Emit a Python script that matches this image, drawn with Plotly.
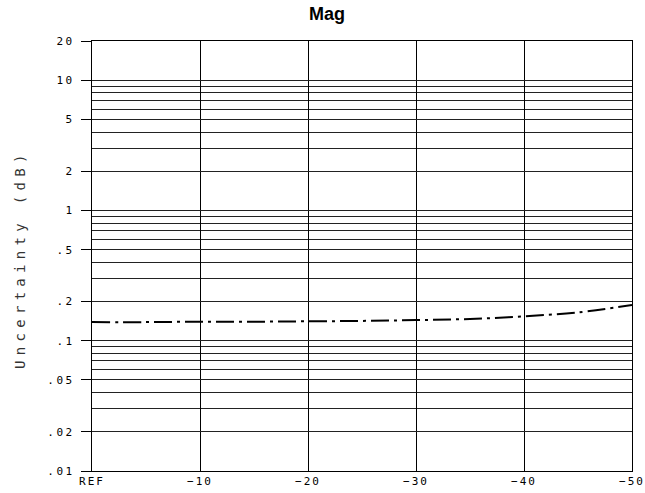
import plotly.graph_objects as go

# Data
offset_db = [0, -5, -10, -15, -20, -25, -30, -35, -40, -45, -50]
uncertainty_db = [0.139, 0.139, 0.14, 0.14, 0.141, 0.142, 0.144, 0.147, 0.154, 0.165, 0.188]

x_tick_vals = [0, -10, -20, -30, -40, -50]
x_tick_text = ["REF", "\u221210", "\u221220", "\u221230", "\u221240", "\u221250"]

y_major_vals = [0.01, 0.02, 0.05, 0.1, 0.2, 0.5, 1, 2, 5, 10, 20]
y_major_text = [".01", ".02", ".05", ".1", ".2", ".5", "1", "2", "5", "10", "20"]
y_minor_vals = [0.03, 0.04, 0.06, 0.07, 0.08, 0.09,
                0.3, 0.4, 0.6, 0.7, 0.8, 0.9,
                3, 4, 6, 7, 8, 9]

mono = "DejaVu Sans Mono"


def spaced(s, px):
    return f'<span style="letter-spacing:{px}px">{s}</span>'


fig = go.Figure()
fig.add_trace(go.Scatter(
    x=offset_db, y=uncertainty_db, mode="lines",
    line=dict(color="black", width=2, dash="18px,5px,3px,5px", shape="spline"),
    showlegend=False, hoverinfo="skip",
))

fig.update_layout(
    width=645, height=493,
    margin=dict(l=92, r=13, t=41, b=22, autoexpand=False),
    paper_bgcolor="white", plot_bgcolor="white",
    title=dict(text="<b>Mag</b>", x=327 / 645, xref="container", xanchor="center",
               y=1 - 14 / 493, yref="container", yanchor="middle",
               font=dict(family="Liberation Sans", size=18, color="black")),
    font=dict(family=mono, color="black"),
)

fig.update_xaxes(
    range=[0, -50], tickvals=x_tick_vals,
    ticktext=[spaced(t, 2) for t in x_tick_text],
    automargin=False, ticklabeloverflow="allow",
    showgrid=True, gridcolor="black", gridwidth=1.2,
    showline=True, linecolor="black", linewidth=1.2, mirror=True,
    ticks="", tickfont=dict(family=mono, size=11, color="black"),
    zeroline=False,
)
fig.update_yaxes(
    type="log", range=[-2, 1.30103],
    tickvals=y_major_vals, ticktext=[spaced(t, 2.5) for t in y_major_text],
    automargin=False,
    ticks="outside", ticklen=10, tickcolor="black", tickwidth=1,
    ticklabelstandoff=4,
    showgrid=True, gridcolor="#222222", gridwidth=1,
    minor=dict(tickvals=y_minor_vals, showgrid=True, gridcolor="#222222",
               gridwidth=1, ticks=""),
    showline=True, linecolor="black", linewidth=1.2, mirror=True,
    tickfont=dict(family=mono, size=11, color="black"),
    zeroline=False,
)

fig.add_annotation(
    text=spaced("Uncertainty (dB)", 5.3), textangle=-90,
    xref="paper", yref="paper", x=(20 - 92) / 540, y=0.493,
    xanchor="center", yanchor="middle", showarrow=False,
    font=dict(family=mono, size=14, color="#333333"),
)

fig.write_html(
    "out.html",
    config={"displayModeBar": False},
    post_script="document.body.style.margin='0';document.body.style.overflow='hidden';",
)
